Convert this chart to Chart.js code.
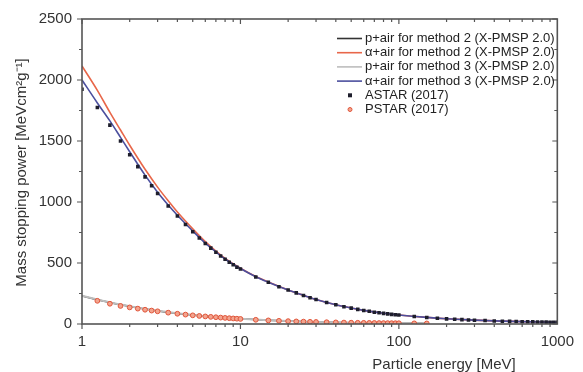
<!DOCTYPE html>
<html>
<head>
<meta charset="utf-8">
<script src="https://cdn.jsdelivr.net/npm/chart.js@4/dist/chart.umd.min.js"></script>
<style>
  html, body { margin: 0; padding: 0; background: #fff; }
</style>
</head>
<body>
<canvas id="stoppingChart" width="583" height="372"></canvas>
<script>
// Energies in MeV, stopping powers in MeV cm2/g
const alphaLineEnergy = [1, 1.25, 1.5, 1.75, 2, 2.5, 3, 3.5, 4, 5, 6, 7, 8, 10, 12.5, 15, 20, 25, 30, 40, 50, 60, 80, 100, 150, 200, 300, 400, 600, 800, 1000];
const alphaMethod2 = [2115, 1915, 1735, 1590, 1465, 1268, 1122, 1010, 918, 780, 675, 598, 538, 457, 389, 344, 279, 235, 201, 158, 131, 112, 88, 74, 54, 43, 31.5, 25.5, 19.2, 16.2, 14.4];
const alphaMethod3 = [2000, 1812, 1665, 1530, 1412, 1220, 1080, 975, 891, 762, 663, 591, 533, 455, 388, 343, 279, 235, 201, 158, 131, 112, 88, 74, 54, 43, 31.5, 25.5, 19.2, 16.2, 14.4];

const protonLineEnergy = [1, 1.25, 1.5, 1.75, 2, 2.5, 3, 4, 5, 6, 8, 10, 15, 20, 30, 50, 70, 100, 150];
const protonMethod2 = [230, 199, 176, 158, 144, 123, 107.5, 87, 73, 63, 50.7, 42.3, 30.3, 23.7, 16.9, 11, 8.3, 6.4, 4.8];
const protonMethod3 = [232, 201, 177, 159, 145, 124, 108, 87.5, 73.5, 63.5, 51, 42.5, 30.5, 23.8, 17, 11, 8.3, 6.4, 4.8];

const astarEnergy = [1, 1.25, 1.5, 1.75, 2, 2.25, 2.5, 2.75, 3, 3.5, 4, 4.5, 5, 5.5, 6, 6.5, 7, 7.5, 8, 8.5, 9, 9.5, 10, 12.5, 15, 17.5, 20, 22.5, 25, 27.5, 30, 35, 40, 45, 50, 55, 60, 65, 70, 75, 80, 85, 90, 95, 100, 125, 150, 175, 200, 225, 250, 275, 300, 350, 400, 450, 500, 550, 600, 650, 700, 750, 800, 850, 900, 950, 1000];
const astarPower = [1924, 1775, 1630, 1500, 1388, 1290, 1206, 1134, 1070, 968, 886, 815, 757, 705, 660, 622, 588, 558, 531, 507, 486, 466, 450, 385, 342, 305, 278, 255, 234, 216, 200, 176, 157, 142, 130, 120, 111, 104, 97, 92, 87, 83, 79, 76, 73, 61, 53, 47, 42, 39, 36, 33, 31, 28, 25, 23, 21.5, 20, 19, 18, 17.3, 16.6, 16, 15.5, 15, 14.6, 14.2];

const pstarEnergy = [1.25, 1.5, 1.75, 2, 2.25, 2.5, 2.75, 3, 3.5, 4, 4.5, 5, 5.5, 6, 6.5, 7, 7.5, 8, 8.5, 9, 9.5, 10, 12.5, 15, 17.5, 20, 22.5, 25, 27.5, 30, 35, 40, 45, 50, 55, 60, 65, 70, 75, 80, 85, 90, 95, 100, 125, 150];
const pstarPower = [190, 166, 148, 136, 126, 117, 110, 104, 93, 84, 77, 71, 66, 62, 58.5, 55.5, 52.5, 50, 47.5, 45.5, 43.5, 41.5, 34.5, 29.5, 26, 23.3, 21, 19.3, 17.8, 16.5, 14.5, 13, 11.8, 10.8, 10, 9.3, 8.7, 8.2, 7.8, 7.4, 7, 6.7, 6.4, 6.2, 5.2, 4.6];

const xTickLabels = [1, 10, 100, 1000];
const yTickLabels = [0, 500, 1000, 1500, 2000, 2500];

const FONT = "'Liberation Sans', Arial, sans-serif";
const TEXT = '#333';
const AXIS = '#555';

function pts(xs, ys) {
    return xs.map((x, i) => ({ x: x, y: ys[i] }));
}

// frame, ticks on all four sides and axis titles
const framePlugin = {
    id: 'frame',
    afterDatasetsDraw(chart) {
        const ctx = chart.ctx;
        const a = chart.chartArea;
        const xs = chart.scales.x;
        const ys = chart.scales.y;
        ctx.save();
        ctx.strokeStyle = AXIS;
        ctx.lineWidth = 1.6;
        ctx.strokeRect(a.left, a.top, a.right - a.left, a.bottom - a.top);
        ctx.lineWidth = 1.2;
        ctx.beginPath();
        for (const d of [1, 10, 100]) {
            for (let k = 1; k <= 9; k++) {
                const px = xs.getPixelForValue(d * k);
                const len = k === 1 ? 5 : 3;
                ctx.moveTo(px, a.bottom); ctx.lineTo(px, a.bottom + len);
                ctx.moveTo(px, a.top); ctx.lineTo(px, a.top + len);
            }
        }
        for (let v = 0; v <= 2500; v += 250) {
            const py = ys.getPixelForValue(v);
            const len = v % 500 === 0 ? 5 : 3;
            ctx.moveTo(a.left, py); ctx.lineTo(a.left - len, py);
            ctx.moveTo(a.right, py); ctx.lineTo(a.right - len, py);
        }
        ctx.stroke();

        ctx.fillStyle = TEXT;
        ctx.font = '15px ' + FONT;
        ctx.textAlign = 'center';
        ctx.textBaseline = 'alphabetic';
        ctx.fillText('Particle energy [MeV]', 444, 369);
        ctx.translate(26, (a.top + a.bottom) / 2 + 1);
        ctx.rotate(-Math.PI / 2);
        ctx.fillText('Mass stopping power [MeVcm\u00b2g\u207b\u00b9]', 0, 0);
        ctx.restore();
    }
};

// legend drawn inside the plot, top right
const legendPlugin = {
    id: 'insideLegend',
    afterDraw(chart) {
        const ctx = chart.ctx;
        ctx.save();
        ctx.font = '13px ' + FONT;
        ctx.textBaseline = 'middle';
        ctx.textAlign = 'left';
        chart.data.datasets.forEach((ds, i) => {
            const y = 38.5 + i * 14.2;
            if (ds.showLine) {
                ctx.strokeStyle = ds.borderColor;
                ctx.lineWidth = 1.6;
                ctx.beginPath();
                ctx.moveTo(337, y);
                ctx.lineTo(362, y);
                ctx.stroke();
            } else if (ds.pointStyle === 'rect') {
                ctx.fillStyle = ds.backgroundColor;
                ctx.fillRect(348, y - 2, 4, 4);
            } else {
                ctx.fillStyle = ds.backgroundColor;
                ctx.strokeStyle = ds.borderColor;
                ctx.lineWidth = 1;
                ctx.beginPath();
                ctx.arc(350, y, 2, 0, Math.PI * 2);
                ctx.fill();
                ctx.stroke();
            }
            ctx.fillStyle = '#222';
            ctx.fillText(ds.label, 365, y);
        });
        ctx.restore();
    }
};

const lineStyle = {
    showLine: true,
    pointRadius: 0,
    cubicInterpolationMode: 'monotone',
    fill: false
};

new Chart(document.getElementById('stoppingChart'), {
    type: 'scatter',
    data: {
        datasets: [
            Object.assign({
                label: 'p+air for method 2 (X-PMSP 2.0)',
                data: pts(protonLineEnergy, protonMethod2),
                borderColor: '#333333',
                borderWidth: 1.5,
                order: 5
            }, lineStyle),
            Object.assign({
                label: '\u03b1+air for method 2 (X-PMSP 2.0)',
                data: pts(alphaLineEnergy, alphaMethod2),
                borderColor: '#e8674a',
                borderWidth: 1.6,
                order: 4
            }, lineStyle),
            Object.assign({
                label: 'p+air for method 3 (X-PMSP 2.0)',
                data: pts(protonLineEnergy, protonMethod3),
                borderColor: '#bdbdbd',
                borderWidth: 2,
                order: 3
            }, lineStyle),
            Object.assign({
                label: '\u03b1+air for method 3 (X-PMSP 2.0)',
                data: pts(alphaLineEnergy, alphaMethod3),
                borderColor: '#4b4f9e',
                borderWidth: 1.6,
                order: 2
            }, lineStyle),
            {
                label: 'ASTAR (2017)',
                data: pts(astarEnergy, astarPower),
                showLine: false,
                pointStyle: 'rect',
                pointRadius: 2.5,
                backgroundColor: '#1e1e2c',
                borderColor: '#1e1e2c',
                borderWidth: 0,
                order: 0
            },
            {
                label: 'PSTAR (2017)',
                data: pts(pstarEnergy, pstarPower),
                showLine: false,
                pointStyle: 'circle',
                pointRadius: 2.4,
                backgroundColor: '#f3a48e',
                borderColor: '#e0553a',
                borderWidth: 1,
                order: 1
            }
        ]
    },
    options: {
        responsive: false,
        animation: false,
        devicePixelRatio: 1,
        layout: { padding: { top: 19, right: 24, left: 0, bottom: 0 } },
        plugins: {
            legend: { display: false },
            tooltip: { enabled: false }
        },
        scales: {
            x: {
                type: 'logarithmic',
                min: 1,
                max: 1000,
                grid: { display: false, drawTicks: false },
                border: { display: false },
                afterBuildTicks: s => { s.ticks = xTickLabels.map(v => ({ value: v })); },
                afterFit: s => { s.height = 48; },
                ticks: {
                    autoSkip: false,
                    maxRotation: 0,
                    padding: 9,
                    color: TEXT,
                    font: { family: FONT, size: 15 },
                    callback: v => String(v)
                }
            },
            y: {
                min: 0,
                max: 2500,
                grid: { display: false, drawTicks: false },
                border: { display: false },
                afterBuildTicks: s => { s.ticks = yTickLabels.map(v => ({ value: v })); },
                afterFit: s => { s.width = 82; },
                ticks: {
                    padding: 10,
                    color: TEXT,
                    font: { family: FONT, size: 15 },
                    callback: v => String(v)
                }
            }
        }
    },
    plugins: [framePlugin, legendPlugin]
});
</script>
</body>
</html>
